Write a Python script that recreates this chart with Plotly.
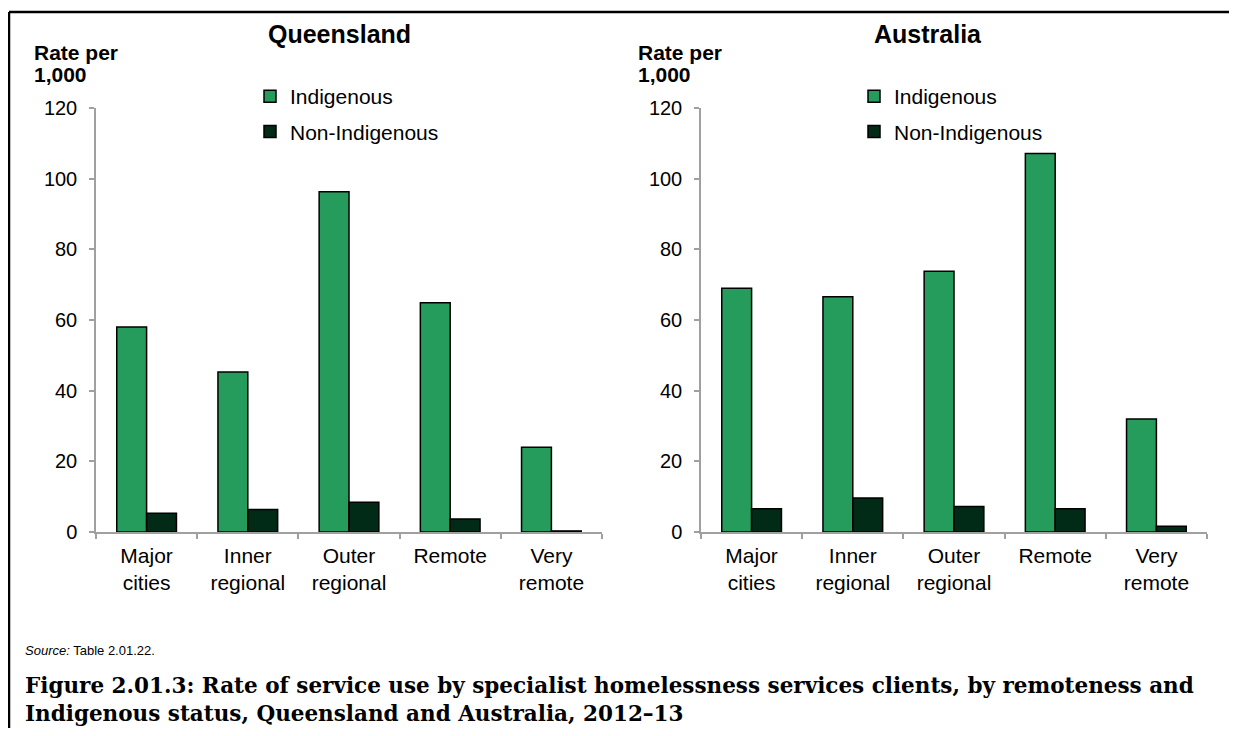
import plotly.graph_objects as go

categories = ["Major<br>cities", "Inner<br>regional", "Outer<br>regional", "Remote", "Very<br>remote"]
qld_indigenous = [58.0, 45.3, 96.3, 64.9, 24.0]
qld_non_indigenous = [5.3, 6.4, 8.4, 3.7, 0.3]
aus_indigenous = [69.0, 66.6, 73.8, 107.1, 32.0]
aus_non_indigenous = [6.6, 9.6, 7.2, 6.6, 1.6]
panel_titles = ["Queensland", "Australia"]
y_ticks = [0, 20, 40, 60, 80, 100, 120]

GREEN = "#269C5C"
DARK = "#022B17"
FONT = "Liberation Sans, Arial, sans-serif"
OFF = 8  # body margin of the page
W, H = 1237 - 2 * OFF, 736 - 2 * OFF


def px(x):
    return (x - OFF) / W


def py(y):
    return 1 - (y - OFF) / H


fig = go.Figure()
panels = [
    (qld_indigenous, qld_non_indigenous, "x", "y", "legend"),
    (aus_indigenous, aus_non_indigenous, "x2", "y2", "legend2"),
]
for ind, non, xa, ya, lg in panels:
    fig.add_trace(go.Bar(x=categories, y=ind, name="Indigenous", xaxis=xa, yaxis=ya,
                         marker=dict(color=GREEN, line=dict(color="#000000", width=1.5)),
                         legend=lg, legendgroup=lg + "a", hoverinfo="y"))
    fig.add_trace(go.Bar(x=categories, y=non, name="Non-Indigenous", xaxis=xa, yaxis=ya,
                         marker=dict(color=DARK, line=dict(color="#000000", width=1.5)),
                         legend=lg, legendgroup=lg + "b", hoverinfo="y"))

axis_common = dict(showgrid=False, zeroline=False, showline=True, linecolor="#A0A0A0",
                   linewidth=1.5, ticks="outside", tickcolor="#A0A0A0", ticklen=5, tickwidth=1.5,
                   automargin=False)
xfont = dict(family=FONT, size=21, color="#000000")
yfont = dict(family=FONT, size=20, color="#000000")

xdomains = [[px(96), px(602)], [px(701), px(1207)]]
ydomain = [py(532), py(108)]

legend_common = dict(xanchor="left", yanchor="top", bgcolor="rgba(0,0,0,0)",
                     font=dict(family=FONT, size=21, color="#000000"), tracegroupgap=5,
                     traceorder="grouped", itemwidth=30)

fig.update_layout(
    width=W, height=H,
    margin=dict(l=0, r=0, t=0, b=0, autoexpand=False),
    paper_bgcolor="white", plot_bgcolor="white",
    barmode="group", bargap=0.41, bargroupgap=0,
    font=dict(family=FONT, size=16, color="#000000"),
    xaxis=dict(domain=xdomains[0], anchor="y", tickson="boundaries", tickfont=xfont,
               ticklabelstandoff=4, **axis_common),
    yaxis=dict(domain=ydomain, anchor="x", range=[0, 120], tickvals=y_ticks, tickfont=yfont,
               ticklabelstandoff=8, **axis_common),
    xaxis2=dict(domain=xdomains[1], anchor="y2", tickson="boundaries", tickfont=xfont,
                ticklabelstandoff=4, **axis_common),
    yaxis2=dict(domain=ydomain, anchor="x2", range=[0, 120], tickvals=y_ticks, tickfont=yfont,
                ticklabelstandoff=8, **axis_common),
    legend=dict(x=px(250), y=py(76), **legend_common),
    legend2=dict(x=px(854), y=py(76), **legend_common),
    showlegend=True,
)

# panel titles
for t, cx in zip(panel_titles, [339, 928]):
    fig.add_annotation(text="<b>%s</b>" % t, x=px(cx), y=py(34), xref="paper", yref="paper",
                       showarrow=False, xanchor="center", yanchor="middle",
                       font=dict(family=FONT, size=25, color="#000000"))

# y-axis unit labels
for lx in [32, 636]:
    for txt, yy in [("Rate per", 52), ("1,000", 74)]:
        fig.add_annotation(text="<b>%s</b>" % txt, x=px(lx), y=py(yy), xref="paper", yref="paper",
                           showarrow=False, xanchor="left", yanchor="middle", align="left",
                           font=dict(family=FONT, size=21, color="#000000"))

# source
fig.add_annotation(text="<i>Source:</i> Table 2.01.22.", x=px(23), y=py(650), xref="paper", yref="paper",
                   showarrow=False, xanchor="left", yanchor="middle",
                   font=dict(family=FONT, size=13, color="#000000"))

# caption
fig.add_annotation(text="<b>Figure 2.01.3: Rate of service use by specialist homelessness services clients, by remoteness and<br>Indigenous status, Queensland and Australia, 2012–13</b>",
                   x=px(23), y=py(699), xref="paper", yref="paper",
                   showarrow=False, xanchor="left", yanchor="middle", align="left",
                   font=dict(family="DejaVu Serif, serif", size=21.5, color="#000000"))

# frame (top and left lines)
fig.add_shape(type="line", xref="paper", yref="paper", x0=px(9), x1=1.01, y0=py(12), y1=py(12),
              line=dict(color="#000000", width=2.5))
fig.add_shape(type="line", xref="paper", yref="paper", x0=px(9), x1=px(9), y0=py(12), y1=-0.02,
              line=dict(color="#000000", width=2.5))

fig.write_html("out.html")
